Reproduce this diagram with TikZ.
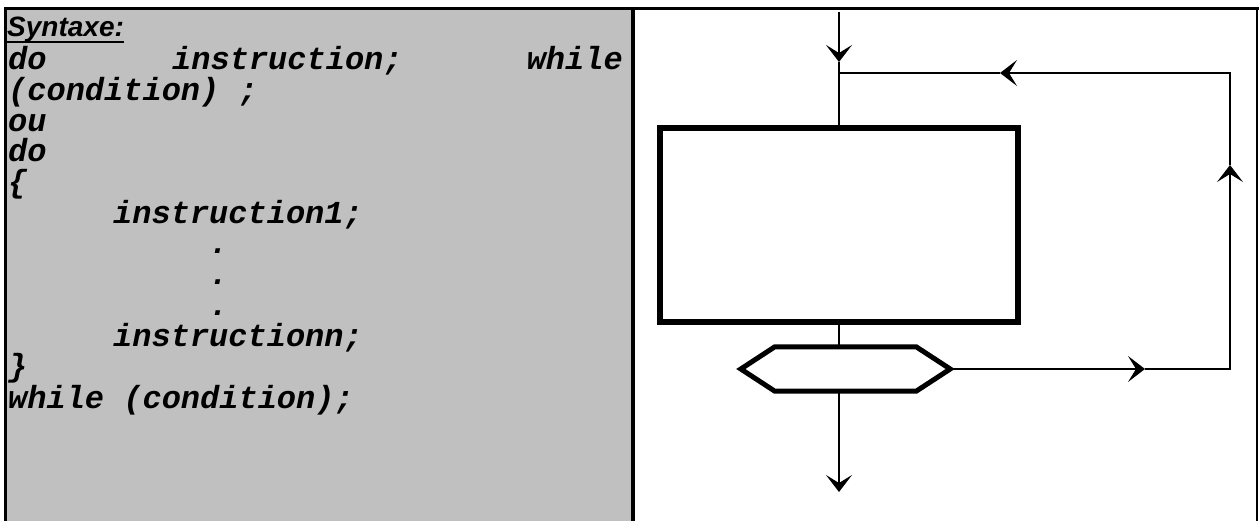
\documentclass[tikz,border=0pt]{standalone}
\usepackage{fontspec}
\setmainfont{Liberation Sans}
\newfontfamily\cour{Liberation Mono}
\usetikzlibrary{arrows.meta,calc}
\definecolor{panelgray}{HTML}{C0C0C0}
\begin{document}
\begin{tikzpicture}[x=1pt,y=-1pt,
  code/.style={anchor=base west, inner sep=0pt, font=\cour\bfseries\itshape\fontsize{32}{32}\selectfont},
  titletext/.style={anchor=base west, inner sep=0pt, font=\bfseries\itshape\fontsize{28}{28}\selectfont},
  flow/.style={line width=1.3pt},
  arr/.style={flow, -{Stealth[length=17pt,width=26pt,inset=8pt]}},
  procbox/.style={draw, line width=6pt, minimum width=358pt, minimum height=194pt, inner sep=0pt},
  hexline/.style={line width=5pt, line join=miter}]
\useasboundingbox (0,0) rectangle (1259,521);
% panels
\fill[panelgray] (5.3,8.5) rectangle (632.5,521);
\draw[line width=3pt] (4,8.5) -- (1259,8.5);
\draw[line width=2.7pt] (5.3,8.5) -- (5.3,521);
\draw[line width=4pt] (632.5,8.5) -- (632.5,521);
\draw[line width=2pt] (1257,8.5) -- (1257,521);
% text
\node[titletext] (syn) at (7,37) {Syntaxe:};
\draw[line width=2.5pt] ($(syn.base west)+(0,5)$) -- ($(syn.base east)+(0,5)$);
\node[code] (l1a) at (8,70) {do};
\node[code] (l1b) at (172,70) {instruction;};
\node[code, anchor=base east] (l1c) at (623,70) {while};
\node[code] (l2) at (8,100.7) {(condition) ;};
\node[code] (l3) at (8,131.4) {ou};
\node[code] (l4) at (8,162) {do};
\node[code] (l5) at (8,192.8) {\{};
\node[code] (l6) at (113,223.5) {instruction1;};
\node[code] (d1) at (209,254) {.};
\node[code] (d2) at (209,285) {.};
\node[code] (d3) at (209,316) {.};
\node[code] (l7) at (113,346.5) {instructionn;};
\node[code] (l8) at (8,377) {\}};
\node[code] (l9) at (8,408) {while (condition);};
% flowchart
\node[procbox] (box) at (839,225) {};
\node[minimum width=209pt, minimum height=44pt, inner sep=0pt] (hex) at (845.5,369) {};
\draw[hexline] (hex.west) -- ($(hex.north west)+(34,0)$) -- ($(hex.north east)+(-34,0)$) -- (hex.east)
  -- ($(hex.south east)+(-34,0)$) -- ($(hex.south west)+(34,0)$) -- cycle;
\coordinate (in) at (839,12);
\coordinate (a1) at (839,62);
\coordinate (j) at (839,73);
\coordinate (tr) at (1230,73);
\coordinate (br) at (1230,369);
\coordinate (a2) at (1000,73);
\coordinate (a3) at (1230,165);
\coordinate (a4) at (1145,369);
\coordinate (out) at (839,492);
\draw[arr] (in) -- (a1);
\draw[flow] (a1) -- (box.north);
\draw[flow] (box.south) -- (box.south |- hex.north);
\draw[arr] (hex.east) -- (a4);
\draw[arr] (a4) -- (br) -- (a3);
\draw[arr] (a3) -- (tr) -- (a2);
\draw[flow] (a2) -- (j);
\draw[arr] (box.south |- hex.south) -- (out);
\end{tikzpicture}
\end{document}
